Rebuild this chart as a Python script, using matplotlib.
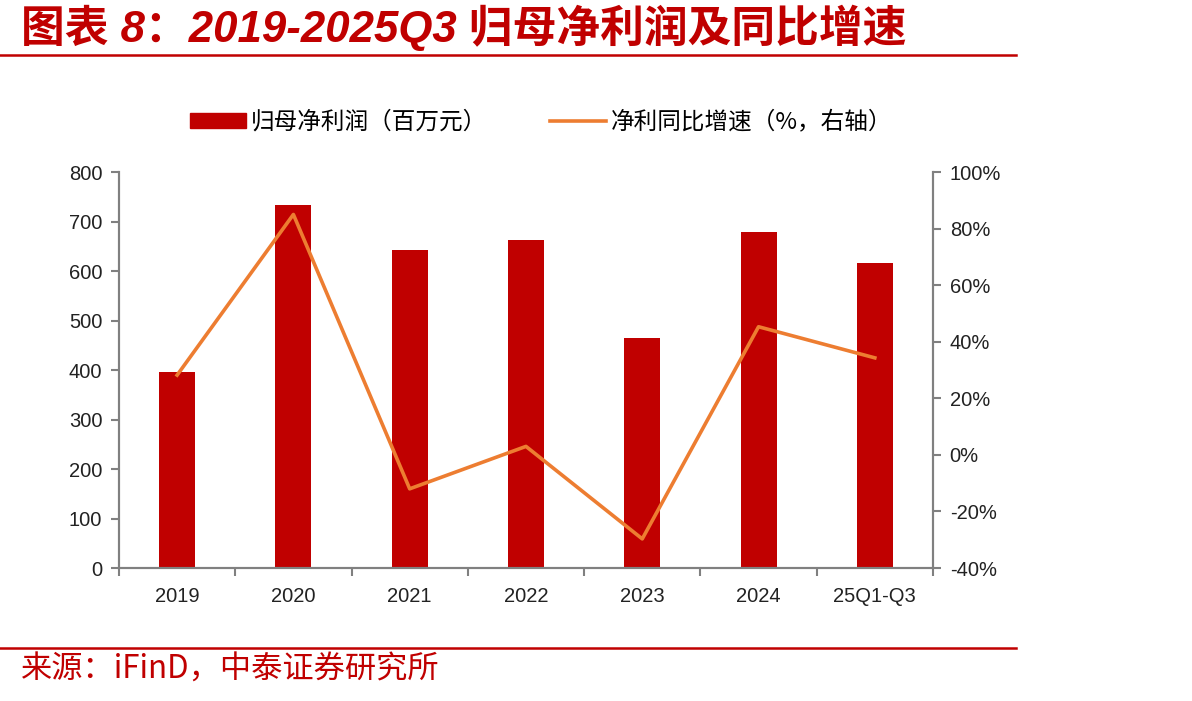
import matplotlib.pyplot as plt
import numpy as np
from matplotlib.lines import Line2D
from matplotlib.patches import Patch

# 数据
categories = ['2019', '2020', '2021', '2022', '2023', '2024', '25Q1-Q3']
net_profit = [396, 733, 643, 663, 465, 678, 616]          # 归母净利润（百万元）
yoy_growth = [28.2, 85.0, -12.0, 3.0, -29.7, 45.3, 34.3]   # 同比增速（%）

RED = '#C00000'
ORANGE = '#ED7D31'
GRAY = '#808080'
CJK = ['Noto Sans CJK SC', 'DejaVu Sans']
NUM = ['Liberation Sans', 'Noto Sans CJK SC']


def create_chart():
    fig = plt.figure(figsize=(11.92, 7.01), dpi=100)
    ax = fig.add_axes([0.0998, 0.1897, 0.6829, 0.5649])
    ax2 = ax.twinx()

    x = np.arange(len(categories))
    ax.bar(x, net_profit, width=0.31, color=RED, zorder=2)
    ax2.plot(x, yoy_growth, color=ORANGE, lw=2.6, zorder=3)

    ax.set_xlim(-0.5, len(categories) - 0.5)
    ax.set_ylim(0, 800)
    ax.set_yticks(range(0, 801, 100))
    ax2.set_ylim(-40, 100)
    ax2.set_yticks(range(-40, 101, 20))
    ax2.set_yticklabels([f'{v}%' for v in range(-40, 101, 20)])

    ax.set_xticks(x)
    ax.set_xticklabels(categories)
    ax.set_xticks(np.arange(-0.5, len(categories), 1), minor=True)
    ax.tick_params(axis='x', which='major', length=0, pad=14)
    ax.tick_params(axis='x', which='minor', length=6, width=1.5, color=GRAY)
    ax.tick_params(axis='y', length=6, width=1.5, color=GRAY, pad=6)
    ax2.tick_params(axis='y', length=6, width=1.5, color=GRAY, pad=6)

    for a in (ax, ax2):
        a.spines['top'].set_visible(False)
        for s in ('left', 'right', 'bottom'):
            a.spines[s].set_color(GRAY)
            a.spines[s].set_linewidth(1.5)
        for lab in a.get_xticklabels() + a.get_yticklabels():
            lab.set_family(NUM)
            lab.set_fontsize(14.5)
            lab.set_color('#222222')

    handles = [Patch(color=RED), Line2D([0], [0], color=ORANGE, lw=2.6)]
    labels = ['归母净利润（百万元）', '净利同比增速（%，右轴）']
    fig.legend(handles, labels, loc='center', bbox_to_anchor=(0.454, 0.826),
               ncol=2, frameon=False, handlelength=2.35, handleheight=0.6,
               handletextpad=0.2, columnspacing=2.7,
               prop={'family': CJK, 'size': 17})

    # 标题与装饰线
    fig.text(0.018, 0.961, '图表 8：2019-2025Q3 归母净利润及同比增速',
             color=RED, fontsize=31.5, fontweight='bold', style='italic',
             family=['Liberation Sans', 'Noto Sans CJK SC'], va='center', ha='left')
    fig.add_artist(Line2D([0, 0.852], [0.921, 0.921], color=RED, lw=1.8))
    fig.add_artist(Line2D([0, 0.852], [0.076, 0.076], color=RED, lw=1.8))
    fig.text(0.018, 0.044, '来源：iFinD，中泰证券研究所', color=RED,
             fontsize=22.5, family=CJK, va='center', ha='left')

    fig.savefig('out.png', dpi=100)


if __name__ == "__main__":
    create_chart()
